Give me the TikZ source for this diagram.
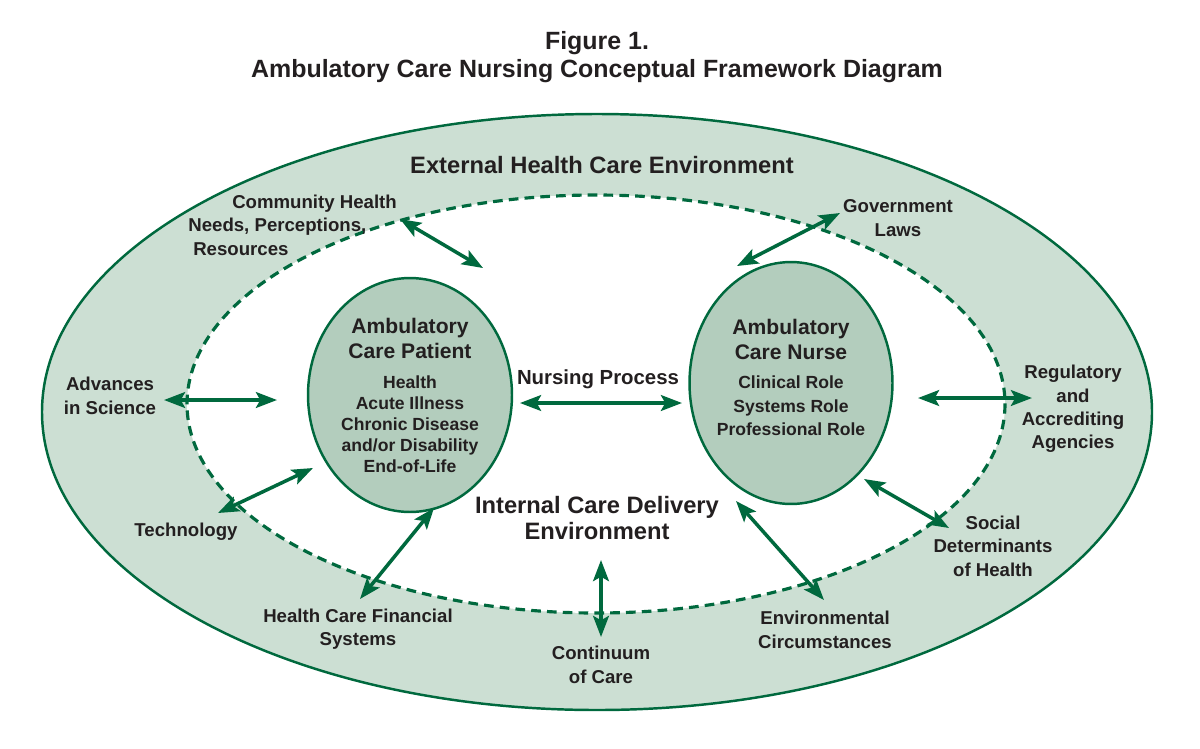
\documentclass[tikz,border=0pt]{standalone}
\usepackage{fontspec}
\setmainfont{Liberation Sans}
\usetikzlibrary{shapes.geometric,arrows.meta}

\definecolor{darkgreen}{RGB}{0,105,62}
\definecolor{bandgreen}{RGB}{204,223,211}
\definecolor{coregreen}{RGB}{179,205,189}
\definecolor{inktext}{RGB}{35,31,32}

\begin{document}
\begin{tikzpicture}[x=0.02cm, y=-0.02cm,
    factor/.style={text=inktext, font=\bfseries\fontsize{10.6}{13.3}\selectfont, align=center, inner sep=0},
    zone/.style={text=inktext, font=\bfseries\fontsize{13.5}{15}\selectfont, align=center, inner sep=0},
    heading/.style={text=inktext, font=\bfseries\fontsize{12}{14.2}\selectfont, align=center, inner sep=0},
    detail/.style={text=inktext, font=\bfseries\fontsize{10}{11.9}\selectfont, align=center, inner sep=0},
    core/.style={ellipse, draw=darkgreen, line width=1.4pt, fill=coregreen, inner sep=0},
    twoway/.style={darkgreen, line width=2pt, {Stealth[length=12pt,width=9pt,inset=2.5pt]}-{Stealth[length=12pt,width=9pt,inset=2.5pt]}},
  ]
    \useasboundingbox (0,0) rectangle (1200,748);

    % external and internal environments
    \draw[darkgreen, line width=1.4pt, fill=bandgreen] (597,412) ellipse [x radius=555, y radius=298];
    \draw[darkgreen, line width=1.8pt, dash pattern=on 5.5pt off 3.5pt, fill=white] (596,404) ellipse [x radius=409, y radius=209];

    \node[core, minimum width=4.08cm, minimum height=4.68cm] (patient) at (410,395) {};
    \node[core, minimum width=4.06cm, minimum height=4.84cm] (nurse)   at (791,383) {};

    \node[text=inktext, font=\bfseries\fontsize{14.2}{15.6}\selectfont, align=center, inner sep=0] (title) at (597,57)
      {Figure 1.\\Ambulatory Care Nursing Conceptual Framework Diagram};

    \node[zone] (external) at (602,165) {External Health Care Environment};
    \node[zone] (internal) at (597,518) {Internal Care Delivery\\Environment};

    \node[heading] (patienthead) at (410,338) {Ambulatory\\Care Patient};
    \node[detail]  (patientlist) at (410,424) {Health\\Acute Illness\\Chronic Disease\\and/or Disability\\End-of-Life};
    \node[heading] (nursehead)   at (791,339) {Ambulatory\\Care Nurse};
    \node[detail, font=\bfseries\fontsize{10}{13.3}\selectfont] (nurselist) at (791,406) {Clinical Role\\Systems Role\\Professional Role};

    \node[factor, font=\bfseries\fontsize{11.6}{13.3}\selectfont] (process) at (598,379) {Nursing Process};

    \node[factor, anchor=west, align=left] (community) at (188,225)
      {\hspace*{25pt}Community Health\\Needs, Perceptions,\\\hspace*{2.8pt}Resources};
    \node[factor] (government)    at (898,218) {Government\\Laws};
    \node[factor] (advances)      at (110,396) {Advances\\in Science};
    \node[factor] (regulatory)    at (1073,409) {Regulatory\\and\\Accrediting\\Agencies};
    \node[factor] (technology)    at (186,532) {Technology};
    \node[factor] (financial)     at (358,629) {Health Care Financial\\Systems};
    \node[factor] (continuum)     at (601,665) {Continuum\\of Care};
    \node[factor] (environmental) at (825,630) {Environmental\\Circumstances};
    \node[factor] (social)        at (993,546) {Social\\Determinants\\of Health};

    % arrow ends
    \coordinate (community-out)     at (400,219);
    \coordinate (community-in)      at (483,268);
    \coordinate (government-out)    at (840,213);
    \coordinate (government-in)     at (737,266);
    \coordinate (advances-out)      at (164,400);
    \coordinate (advances-in)       at (277,400);
    \coordinate (process-left)      at (520,403);
    \coordinate (process-right)     at (682,403);
    \coordinate (regulatory-in)     at (918,398);
    \coordinate (regulatory-out)    at (1032,398);
    \coordinate (technology-out)    at (218,513);
    \coordinate (technology-in)     at (313,468);
    \coordinate (financial-out)     at (360,599);
    \coordinate (financial-in)      at (434,508);
    \coordinate (continuum-in)      at (601,560);
    \coordinate (continuum-out)     at (601,637);
    \coordinate (environmental-in)  at (736,501);
    \coordinate (environmental-out) at (824,600);
    \coordinate (social-in)         at (864,479);
    \coordinate (social-out)        at (949,528);

    \draw[twoway] (community-out) -- (community-in);
    \draw[twoway] (government-in) -- (government-out);
    \draw[twoway] (advances-out) -- (advances-in);
    \draw[twoway] (process-left) -- (process-right);
    \draw[twoway] (regulatory-in) -- (regulatory-out);
    \draw[twoway] (technology-out) -- (technology-in);
    \draw[twoway] (financial-out) -- (financial-in);
    \draw[twoway] (continuum-in) -- (continuum-out);
    \draw[twoway] (environmental-in) -- (environmental-out);
    \draw[twoway] (social-in) -- (social-out);
\end{tikzpicture}
\end{document}
